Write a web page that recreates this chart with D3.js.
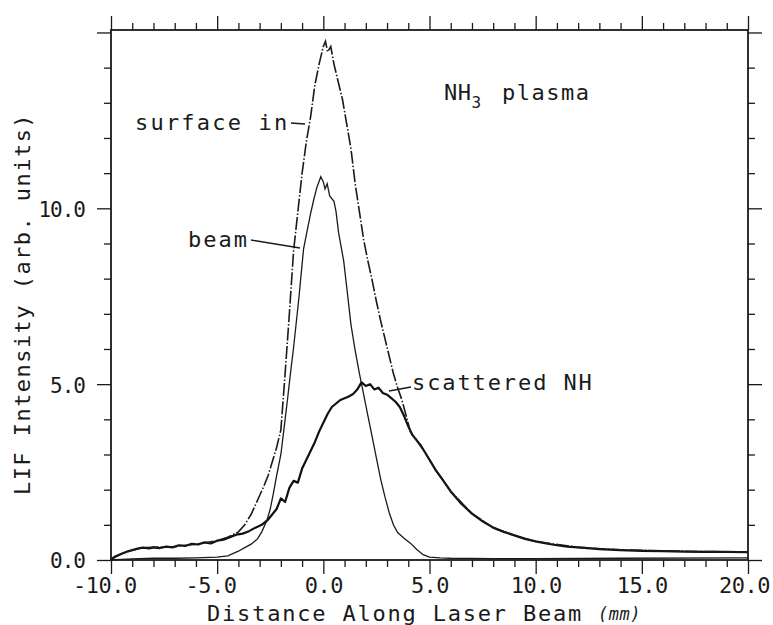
<!DOCTYPE html>
<html>
<head>
<meta charset="utf-8">
<script src="https://cdn.jsdelivr.net/npm/d3@7"></script>
<style>
  html, body { margin: 0; padding: 0; background: #fff; }
  svg { display: block; }
  text { font-family: "DejaVu Sans Mono", monospace; fill: #1a1a1a; }
</style>
</head>
<body>
<svg id="chart" width="773" height="625"></svg>
<script>
// ---------------- data ----------------
const xDomain = [-10, 20];
const yDomain = [0, 15.07];
const xMajorTicks = [-10, -5, 0, 5, 10, 15, 20];
const yMajorTicks = [0, 5, 10, 15];
const xTitle = "Distance Along Laser Beam";
const xUnit = "(mm)";
const yTitle = "LIF Intensity (arb. units)";

// "surface in" (dashed)
const surfaceX = [-10, -9.5, -9, -8.5, -8, -7, -6, -5, -4.5, -4.0, -3.7, -3.4, -3.1, -2.8, -2.6, -2.4, -2.2, -2.0,
  -1.8, -1.6, -1.4, -1.2, -1.0, -0.8, -0.6, -0.4, -0.2, 0, 0.1, 0.2, 0.35, 0.5, 0.7, 0.9, 1.1, 1.3, 1.5, 1.7,
  1.9, 2.1, 2.3, 2.5, 2.7, 2.9, 3.1, 3.3, 3.5, 3.7, 3.9, 4.1, 4.4, 4.8, 5.3, 6, 7, 8, 9, 10, 12, 14, 16, 18, 20];
const surfaceY = [0.02, 0.18, 0.28, 0.35, 0.36, 0.38, 0.45, 0.55, 0.65, 0.8, 1.0, 1.3, 1.7, 2.1, 2.4, 2.8, 3.2, 3.7,
  5.3, 7.0, 8.8, 9.9, 11.0, 11.9, 12.6, 13.5, 14.1, 14.6, 14.75, 14.45, 14.6, 14.1, 13.6, 13.1, 12.4, 11.7, 10.7, 9.9,
  9.1, 8.5, 7.95, 7.35, 6.8, 6.3, 5.8, 5.3, 4.9, 4.55, 4.1, 3.65, 3.4, 3.05, 2.55, 1.95, 1.32, 0.92, 0.7, 0.53, 0.36, 0.29, 0.26, 0.24, 0.23];

// "beam" (thin solid)
const beamX = [-10, -9, -8, -7, -6, -5, -4.5, -4.0, -3.7, -3.4, -3.1, -2.9, -2.65, -2.5, -2.35, -2.2, -2.0, -1.85,
  -1.7, -1.55, -1.4, -1.16, -0.93, -0.75, -0.6, -0.45, -0.3, -0.12, 0, 0.08, 0.18, 0.3, 0.5, 0.6, 0.72, 0.96,
  1.15, 1.3, 1.5, 1.7, 1.9, 2.1, 2.3, 2.5, 2.7, 2.9, 3.1, 3.3, 3.5, 3.8, 4.1, 4.4, 4.7, 5.0, 5.5, 6, 8, 10, 14, 20];
const beamY = [0.0, 0.03, 0.05, 0.05, 0.06, 0.08, 0.12, 0.25, 0.35, 0.45, 0.6, 0.8, 1.14, 1.45, 1.9, 2.4, 3.0, 3.75,
  4.5, 5.3, 6.05, 7.4, 8.85, 9.4, 9.85, 10.25, 10.6, 10.9, 10.75, 10.55, 10.7, 10.35, 10.2, 9.9, 9.3, 8.5,
  7.5, 6.7, 5.95, 5.3, 4.7, 4.1, 3.5, 2.9, 2.3, 1.8, 1.35, 1.0, 0.78, 0.62, 0.48, 0.3, 0.15, 0.08, 0.06, 0.05, 0.04, 0.04, 0.05, 0.06];

// "scattered NH" (thick, noisy solid)
const scatterX = [-10, -9.8, -9.5, -9.2, -9.0, -8.7, -8.5, -8.2, -8.0, -7.7, -7.4, -7.1, -6.8, -6.5, -6.2, -5.9, -5.6,
  -5.3, -5.0, -4.7, -4.4, -4.1, -3.8, -3.5, -3.2, -2.9, -2.6, -2.4, -2.2, -2.0, -1.8, -1.6, -1.4, -1.2, -1.0, -0.8,
  -0.6, -0.4, -0.2, 0, 0.2, 0.4, 0.6, 0.8, 1.0, 1.2, 1.4, 1.6, 1.8, 2.0, 2.2, 2.4, 2.6, 2.8, 3.0, 3.2, 3.4, 3.6,
  3.8, 4.0, 4.2, 4.4, 4.6, 4.8, 5.0, 5.3, 5.6, 6.0, 6.5, 7.0, 7.5, 8.0, 8.5, 9.0, 9.5, 10.0, 10.5, 11.0, 11.5, 12.0,
  13.0, 14.0, 15.0, 16.0, 17.0, 18.0, 19.0, 20.0];
const scatterY = [0.02, 0.1, 0.18, 0.25, 0.28, 0.33, 0.35, 0.33, 0.36, 0.34, 0.38, 0.36, 0.42, 0.40, 0.46, 0.44, 0.50,
  0.47, 0.55, 0.58, 0.65, 0.72, 0.75, 0.82, 0.92, 1.0, 1.15, 1.3, 1.45, 1.75, 1.65, 2.05, 2.25, 2.2, 2.6, 2.85,
  3.1, 3.35, 3.65, 3.9, 4.15, 4.35, 4.45, 4.55, 4.6, 4.65, 4.72, 4.85, 5.05, 4.95, 5.0, 4.85, 4.9, 4.75, 4.7, 4.6, 4.5, 4.35,
  4.1, 3.8, 3.55, 3.4, 3.25, 3.05, 2.85, 2.55, 2.3, 1.95, 1.6, 1.32, 1.1, 0.92, 0.8, 0.7, 0.6, 0.53, 0.47, 0.42, 0.38, 0.36,
  0.31, 0.28, 0.26, 0.25, 0.24, 0.23, 0.23, 0.22];

// ---------------- layout ----------------
const W = 773, H = 625;
const M = { left: 111, top: 30, right: 773 - 748, bottom: 625 - 560 };
const iw = W - M.left - M.right, ih = H - M.top - M.bottom;

const svg = d3.select("#chart");
const g = svg.append("g").attr("transform", `translate(${M.left},${M.top})`);

const x = d3.scaleLinear().domain(xDomain).range([0, iw]);
const y = d3.scaleLinear().domain(yDomain).range([ih, 0]);

const xMinor = d3.range(xDomain[0], xDomain[1] + 0.001, 1);
const yMinor = d3.range(0, 15.001, 1);
const isMajor = v => Math.abs(v % 5) < 1e-9;
const fmt = v => (v < 0 ? "-" : "") + d3.format(".1f")(Math.abs(v));

function styleAxis(sel, orient, labels) {
  sel.select(".domain").remove();
  sel.selectAll(".tick line").attr("stroke", "#1a1a1a").attr("stroke-width", 1.3);
  sel.selectAll(".tick").each(function (d) {
    const t = d3.select(this);
    const len = isMajor(d) ? 14 : 7;
    if (orient === "bottom") t.select("line").attr("y2", len);
    if (orient === "top") t.select("line").attr("y2", -len);
    if (orient === "left") t.select("line").attr("x2", -len);
    if (orient === "right") t.select("line").attr("x2", len);
  });
  if (!labels) sel.selectAll(".tick text").remove();
}

// bottom
const gx = g.append("g").attr("transform", `translate(0,${ih})`)
  .call(d3.axisBottom(x).tickValues(xMinor).tickSize(7)
    .tickFormat(d => isMajor(d) ? fmt(d) : ""));
styleAxis(gx, "bottom", true);
gx.selectAll(".tick text")
  .attr("font-size", 22).attr("font-family", "DejaVu Sans Mono")
  .attr("fill", "#1a1a1a")
  .attr("y", 33).attr("dy", 0)
  .attr("letter-spacing", -0.5)
  .attr("dx", d => d < 0 ? -6.6 : (d === xDomain[1] ? -4 : 0));

// top
const gxt = g.append("g").call(d3.axisTop(x).tickValues(xMinor).tickSize(7));
styleAxis(gxt, "top", false);

// left
const gy = g.append("g")
  .call(d3.axisLeft(y).tickValues(yMinor).tickSize(7)
    .tickFormat(d => (isMajor(d) && d < 15) ? fmt(d) : ""));
styleAxis(gy, "left", true);
gy.selectAll(".tick text")
  .attr("font-size", 21).attr("font-family", "DejaVu Sans Mono")
  .attr("fill", "#1a1a1a")
  .attr("letter-spacing", -1)
  .attr("x", -26).attr("dy", "0.38em");

// right
const gyr = g.append("g").attr("transform", `translate(${iw},0)`)
  .call(d3.axisRight(y).tickValues(yMinor).tickSize(7));
styleAxis(gyr, "right", false);

// frame
g.append("rect").attr("x", 0).attr("y", 0).attr("width", iw).attr("height", ih)
  .attr("fill", "none").attr("stroke", "#1a1a1a").attr("stroke-width", 1.8);

// ---------------- curves ----------------
const line = d3.line().x(d => x(d[0])).y(d => y(d[1]));
const zip = (xs, ys) => xs.map((v, i) => [v, ys[i]]);

g.append("path").datum(zip(beamX, beamY))
  .attr("d", line).attr("fill", "none").attr("stroke", "#1a1a1a").attr("stroke-width", 1.3);

g.append("path").datum(zip(scatterX, scatterY))
  .attr("d", line).attr("fill", "none").attr("stroke", "#111").attr("stroke-width", 2.2)
  .attr("stroke-linejoin", "round");

g.append("path").datum(zip(surfaceX, surfaceY))
  .attr("d", line).attr("fill", "none").attr("stroke", "#1a1a1a").attr("stroke-width", 1.6)
  .attr("stroke-dasharray", "13,2,1.5,2");

// ---------------- annotations ----------------
const ann = svg.append("g").attr("font-size", 22);

ann.append("text").attr("x", 135).attr("y", 130).attr("letter-spacing", 2.2).text("surface in");
ann.append("line").attr("x1", 291).attr("y1", 123).attr("x2", 305).attr("y2", 124)
  .attr("stroke", "#1a1a1a").attr("stroke-width", 1.3);

ann.append("text").attr("x", 188).attr("y", 247).attr("letter-spacing", 2).text("beam");
ann.append("line").attr("x1", 251).attr("y1", 240).attr("x2", 300).attr("y2", 248)
  .attr("stroke", "#1a1a1a").attr("stroke-width", 1.3);

ann.append("text").attr("x", 412).attr("y", 390).attr("letter-spacing", 1.9).text("scattered NH");
ann.append("line").attr("x1", 411).attr("y1", 387).attr("x2", 389).attr("y2", 391)
  .attr("stroke", "#1a1a1a").attr("stroke-width", 1.3);

const nh = ann.append("text").attr("x", 444).attr("y", 100).attr("letter-spacing", 0.5);
nh.append("tspan").text("NH");
nh.append("tspan").attr("dy", 8).attr("font-size", 16).text("3");
nh.append("tspan").attr("x", 502).attr("dy", -8).attr("letter-spacing", 1.5).text("plasma");

// axis titles
svg.append("text").attr("x", 207).attr("y", 621).attr("font-size", 22)
  .attr("letter-spacing", 1.8).text(xTitle);
svg.append("text").attr("x", 598).attr("y", 620).attr("font-size", 17)
  .attr("font-style", "italic").attr("letter-spacing", 0.5).text(xUnit);

svg.append("text").attr("transform", "translate(30,304) rotate(-90)")
  .attr("text-anchor", "middle").attr("font-size", 22).attr("letter-spacing", 1.45)
  .text(yTitle);
</script>
</body>
</html>
